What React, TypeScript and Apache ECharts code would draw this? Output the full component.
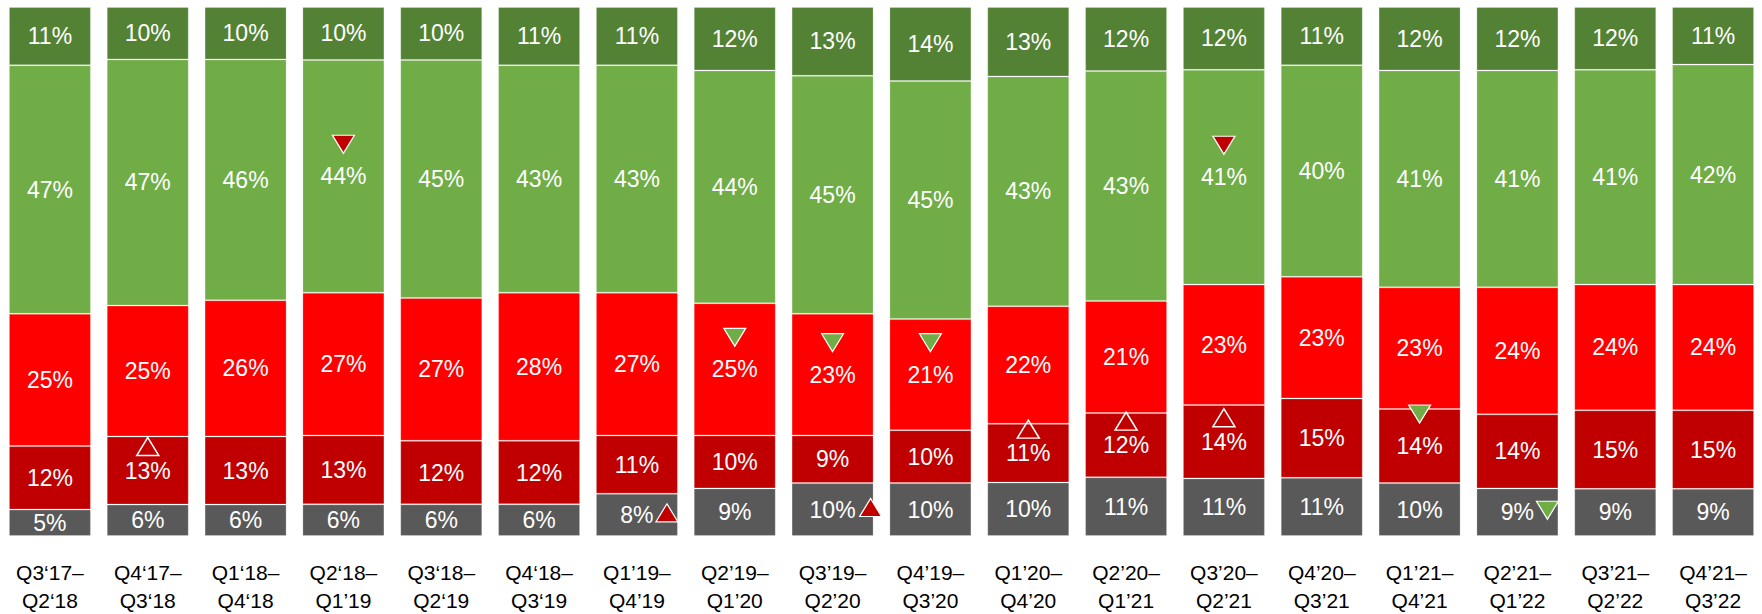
import React, { useEffect, useRef } from "react";
import * as echarts from "echarts";

const categories = [
  "Q3‘17–\nQ2‘18", "Q4‘17–\nQ3‘18", "Q1‘18–\nQ4‘18", "Q2‘18–\nQ1’19",
  "Q3‘18–\nQ2‘19", "Q4‘18–\nQ3‘19", "Q1’19–\nQ4’19", "Q2’19–\nQ1’20",
  "Q3’19–\nQ2’20", "Q4’19–\nQ3’20", "Q1’20–\nQ4’20", "Q2’20–\nQ1’21",
  "Q3’20–\nQ2’21", "Q4’20–\nQ3’21", "Q1’21–\nQ4’21", "Q2’21–\nQ1’22",
  "Q3’21–\nQ2’22", "Q4’21–\nQ3’22",
];

// bottom → top
const gray = [5, 6, 6, 6, 6, 6, 8, 9, 10, 10, 10, 11, 11, 11, 10, 9, 9, 9];
const darkRed = [12, 13, 13, 13, 12, 12, 11, 10, 9, 10, 11, 12, 14, 15, 14, 14, 15, 15];
const red = [25, 25, 26, 27, 27, 28, 27, 25, 23, 21, 22, 21, 23, 23, 23, 24, 24, 24];
const lightGreen = [47, 47, 46, 44, 45, 43, 43, 44, 45, 45, 43, 43, 41, 40, 41, 41, 41, 42];
const darkGreen = [11, 10, 10, 10, 10, 11, 11, 12, 13, 14, 13, 12, 12, 11, 12, 12, 12, 11];

const segments = [gray, darkRed, red, lightGreen, darkGreen];
const segmentNames = ["Segment 1", "Segment 2", "Segment 3", "Segment 4", "Segment 5"];
const segmentColors = ["#595959", "#C00000", "#FF0000", "#70AD47", "#548235"];

// change markers: category index, segment index, kind, placement
type Marker = { cat: number; seg: number; kind: "hollowUp" | "redUp" | "redDown" | "greenDown"; place: "above" | "right" };
const markers: Marker[] = [
  { cat: 1, seg: 1, kind: "hollowUp", place: "above" },
  { cat: 3, seg: 3, kind: "redDown", place: "above" },
  { cat: 6, seg: 0, kind: "redUp", place: "right" },
  { cat: 7, seg: 2, kind: "greenDown", place: "above" },
  { cat: 8, seg: 2, kind: "greenDown", place: "above" },
  { cat: 8, seg: 0, kind: "redUp", place: "right" },
  { cat: 9, seg: 2, kind: "greenDown", place: "above" },
  { cat: 10, seg: 1, kind: "hollowUp", place: "above" },
  { cat: 11, seg: 1, kind: "hollowUp", place: "above" },
  { cat: 12, seg: 1, kind: "hollowUp", place: "above" },
  { cat: 12, seg: 3, kind: "redDown", place: "above" },
  { cat: 14, seg: 1, kind: "greenDown", place: "above" },
  { cat: 15, seg: 0, kind: "greenDown", place: "right" },
];

const FONT = 'Arial, "Liberation Sans", sans-serif';

export default function App() {
  const ref = useRef<HTMLDivElement>(null);

  useEffect(() => {
    if (!ref.current) return;
    const chart = echarts.init(ref.current, undefined, { renderer: "svg" });

    const totals = categories.map((_, i) => segments.reduce((s, arr) => s + arr[i], 0));
    const norm = segments.map((arr) => arr.map((v, i) => (v / totals[i]) * 100));

    const barSeries = norm.map((arr, si) => ({
      name: segmentNames[si],
      type: "bar",
      stack: "total",
      barWidth: 82,
      data: arr,
      itemStyle: {
        color: segmentColors[si],
        borderColor: "rgba(255,255,255,0.22)",
        borderWidth: 1,
      },
      label: {
        show: true,
        position: "inside",
        color: "#ffffff",
        fontFamily: FONT,
        fontSize: 23,
        formatter: (p: any) => `${segments[si][p.dataIndex]}%`,
      },
      z: 2,
    }));

    const markerData = markers.map((m) => {
      let below = 0;
      for (let s = 0; s < m.seg; s++) below += norm[s][m.cat];
      const center = below + norm[m.seg][m.cat] / 2;
      const val = segments[m.seg][m.cat];
      const down = m.kind === "redDown" || m.kind === "greenDown";
      const fill =
        m.kind === "hollowUp" ? "rgba(0,0,0,0)" : m.kind === "greenDown" ? "#70AD47" : "#C00000";
      const offset =
        m.place === "above"
          ? [0, m.kind === "hollowUp" ? -24 : -32]
          : [val >= 10 ? 38 : 30, -2];
      return {
        value: [m.cat, center],
        symbol: "triangle",
        symbolSize: [22, 18],
        symbolRotate: down ? 180 : 0,
        symbolOffset: offset,
        itemStyle: {
          color: fill,
          opacity: 1,
          borderColor: "#ffffff",
          borderWidth: m.kind === "hollowUp" ? 1.5 : 1.2,
        },
      };
    });

    chart.setOption({
      animation: false,
      grid: { left: 1, top: 7, width: 1763, bottom: 76, containLabel: false },
      xAxis: {
        type: "category",
        data: categories,
        axisLine: { show: false },
        axisTick: { show: false },
        axisLabel: {
          color: "#000000",
          fontFamily: FONT,
          fontSize: 21,
          lineHeight: 28,
          margin: 22,
          interval: 0,
        },
      },
      yAxis: {
        type: "value",
        min: 0,
        max: 100,
        show: false,
        splitLine: { show: false },
      },
      series: [
        ...barSeries,
        {
          name: "Changes",
          type: "scatter",
          data: markerData,
          itemStyle: { opacity: 1 },
          z: 5,
          silent: true,
        },
      ],
    });

    return () => chart.dispose();
  }, []);

  return (
    <div
      ref={ref}
      style={{ position: "absolute", left: 0, top: 0, width: 1762, height: 614, overflow: "hidden" }}
    />
  );
}
